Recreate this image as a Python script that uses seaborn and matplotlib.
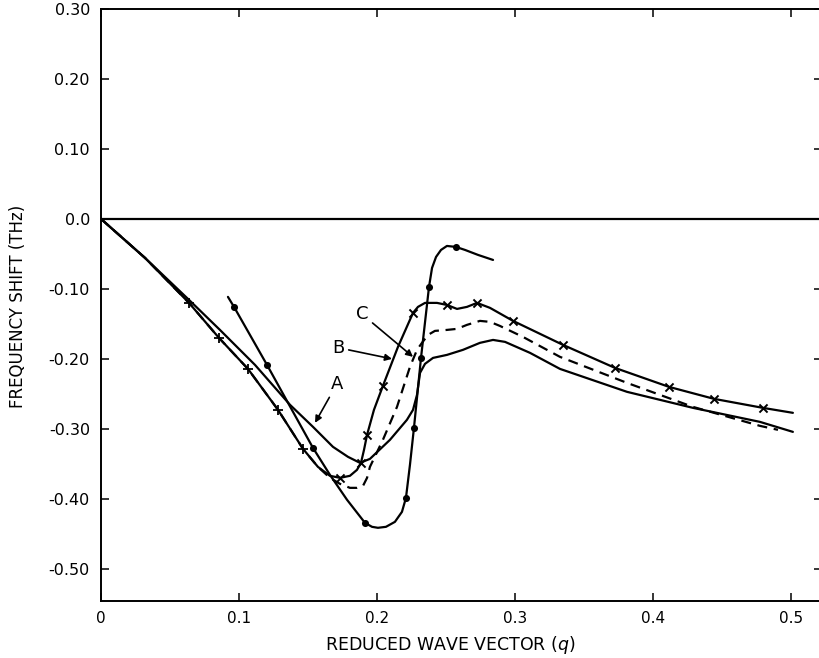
import matplotlib
matplotlib.use("Agg")
import matplotlib.pyplot as plt
import seaborn as sns

# ---- curve with filled circles ----
dot_line_q = [0.0920, 0.0964, 0.1203, 0.1536, 0.1659, 0.1783, 0.1913, 0.1964, 0.2007, 0.2065,
              0.2130, 0.2181, 0.2210, 0.2239, 0.2268, 0.2319, 0.2377, 0.2399, 0.2428, 0.2464,
              0.2507, 0.2572, 0.2638, 0.2732, 0.2841]
dot_line_f = [-0.1114, -0.1257, -0.2086, -0.3271, -0.3657, -0.4014, -0.4343, -0.4400, -0.4414, -0.4400,
              -0.4329, -0.4186, -0.3986, -0.3514, -0.2986, -0.1986, -0.0971, -0.0700, -0.0543, -0.0443,
              -0.0386, -0.0400, -0.0443, -0.0514, -0.0586]
dot_pts_q = [0.0964, 0.1203, 0.1536, 0.1913, 0.2210, 0.2268, 0.2319, 0.2377, 0.2572]
dot_pts_f = [-0.1257, -0.2086, -0.3271, -0.4343, -0.3986, -0.2986, -0.1986, -0.0971, -0.0400]

# ---- curve A (solid) ----
a_q = [0.0, 0.0319, 0.0638, 0.0862, 0.1116, 0.1370, 0.1536, 0.1681, 0.1790, 0.1877,
       0.1949, 0.2094, 0.2217, 0.2261, 0.2290, 0.2312, 0.2348, 0.2406, 0.2507, 0.2623,
       0.2746, 0.2841, 0.2928, 0.3109, 0.3326, 0.3812, 0.4290, 0.4775, 0.5014]
a_f = [0.0, -0.0557, -0.1157, -0.1586, -0.2086, -0.2657, -0.2971, -0.3257, -0.3400, -0.3486,
       -0.3429, -0.3157, -0.2871, -0.2729, -0.2514, -0.2200, -0.2071, -0.1986, -0.1943, -0.1871,
       -0.1771, -0.1729, -0.1757, -0.1914, -0.2143, -0.2471, -0.2700, -0.2900, -0.3043]

# ---- curve B (dashed) ----
b_q = [0.0, 0.0319, 0.0638, 0.0855, 0.1065, 0.1283, 0.1464, 0.1572, 0.1659, 0.1732,
       0.1804, 0.1855, 0.1899, 0.1928, 0.1949, 0.2043, 0.2145, 0.2239, 0.2290, 0.2326,
       0.2370, 0.2420, 0.2507, 0.2580, 0.2652, 0.2746, 0.2819, 0.2891, 0.3058, 0.3326,
       0.3812, 0.4290, 0.4775, 0.4906]
b_f = [0.0, -0.0557, -0.1200, -0.1700, -0.2143, -0.2729, -0.3286, -0.3543, -0.3700, -0.3786,
       -0.3843, -0.3843, -0.3814, -0.3700, -0.3543, -0.3157, -0.2686, -0.2114, -0.1871, -0.1771,
       -0.1657, -0.1600, -0.1586, -0.1571, -0.1514, -0.1457, -0.1471, -0.1529, -0.1686, -0.1971,
       -0.2343, -0.2686, -0.2957, -0.3014]

# ---- curve C (solid with crosses) ----
c_q = [0.0, 0.0319, 0.0638, 0.0855, 0.1065, 0.1283, 0.1464, 0.1572, 0.1659, 0.1732,
       0.1804, 0.1855, 0.1884, 0.1906, 0.1928, 0.1978, 0.2043, 0.2152, 0.2261, 0.2297,
       0.2348, 0.2435, 0.2507, 0.2580, 0.2652, 0.2725, 0.2819, 0.2986, 0.3348, 0.3725,
       0.4116, 0.4442, 0.4797, 0.5014]
c_f = [0.0, -0.0557, -0.1200, -0.1700, -0.2143, -0.2729, -0.3286, -0.3543, -0.3671, -0.3700,
       -0.3671, -0.3586, -0.3486, -0.3300, -0.3086, -0.2729, -0.2386, -0.1829, -0.1343, -0.1257,
       -0.1200, -0.1200, -0.1229, -0.1286, -0.1257, -0.1200, -0.1271, -0.1457, -0.1800, -0.2129,
       -0.2400, -0.2571, -0.2700, -0.2771]
c_plus_q = [0.0638, 0.0855, 0.1065, 0.1283, 0.1464]
c_plus_f = [-0.1200, -0.1700, -0.2143, -0.2729, -0.3286]
c_x_q = [0.1732, 0.1884, 0.1928, 0.2043, 0.2261, 0.2507, 0.2725, 0.2986, 0.3348, 0.3725,
         0.4116, 0.4442, 0.4797]
c_x_f = [-0.3700, -0.3486, -0.3086, -0.2386, -0.1343, -0.1229, -0.1200, -0.1457, -0.1800, -0.2129,
         -0.2400, -0.2571, -0.2700]

x_ticks = [0.0, 0.1, 0.2, 0.3, 0.4, 0.5]
x_tick_labels = ["0", "0.1", "0.2", "0.3", "0.4", "0.5"]
y_ticks = [0.30, 0.20, 0.10, 0.0, -0.10, -0.20, -0.30, -0.40, -0.50]
y_tick_labels = ["0.30", "0.20", "0.10", "0.0", "-0.10", "-0.20", "-0.30", "-0.40", "-0.50"]

sns.set_style("ticks")
plt.rcParams["font.family"] = ["DejaVu Sans"]
plt.rcParams["text.color"] = "black"
plt.rcParams["axes.labelcolor"] = "black"
plt.rcParams["xtick.color"] = "black"
plt.rcParams["ytick.color"] = "black"

fig = plt.figure(figsize=(8.2, 6.58), dpi=100)
ax = fig.add_axes([101 / 820, 1 - 601 / 658, 721 / 820, 592 / 658])

LW = 1.6
ax.axhline(0.0, color="black", lw=LW, zorder=1)

sns.lineplot(x=b_q, y=b_f, ax=ax, color="black", lw=LW, linestyle=(0, (4.5, 3.0)),
             sort=False, estimator=None, zorder=2)
sns.lineplot(x=a_q, y=a_f, ax=ax, color="black", lw=LW, sort=False, estimator=None, zorder=3)
sns.lineplot(x=c_q, y=c_f, ax=ax, color="black", lw=LW, sort=False, estimator=None, zorder=4)
sns.lineplot(x=dot_line_q, y=dot_line_f, ax=ax, color="black", lw=LW, sort=False,
             estimator=None, zorder=4)

sns.scatterplot(x=dot_pts_q, y=dot_pts_f, ax=ax, marker="o", s=26, color="black",
                edgecolor="black", linewidth=0, zorder=5)
sns.scatterplot(x=c_plus_q, y=c_plus_f, ax=ax, marker="+", s=60, color="black",
                linewidth=1.3, zorder=5)
sns.scatterplot(x=c_x_q, y=c_x_f, ax=ax, marker="x", s=34, color="black",
                linewidth=1.4, zorder=5)

arrow = dict(arrowstyle="-|>", color="black", lw=1.2, mutation_scale=10,
             shrinkA=1, shrinkB=0)
ax.annotate("A", xy=(0.1551, -0.2914), xytext=(0.171, -0.2357), ha="center", va="center",
            fontsize=13, color="black", arrowprops=arrow)
ax.annotate("B", xy=(0.2109, -0.2000), xytext=(0.1717, -0.1840), ha="center", va="center",
            fontsize=13, color="black", arrowprops=arrow)
ax.annotate("C", xy=(0.2261, -0.1971), xytext=(0.1891, -0.1360), ha="center", va="center",
            fontsize=13, color="black", arrowprops=arrow)

ax.set_xlim(0.0, 0.5225)
ax.set_ylim(-0.546, 0.30)
ax.set_xticks(x_ticks)
ax.set_xticklabels(x_tick_labels)
ax.set_yticks(y_ticks)
ax.set_yticklabels(y_tick_labels)
ax.tick_params(axis="both", direction="in", length=6, width=1.1, top=True, right=True,
               colors="black", labelcolor="black")
ax.tick_params(axis="y", labelsize=11.5, pad=8)
ax.tick_params(axis="x", labelsize=11, pad=7)
for side in ["left", "top", "bottom"]:
    ax.spines[side].set_linewidth(1.4)
    ax.spines[side].set_color("black")
ax.spines["right"].set_visible(False)

ax.set_xlabel("REDUCED WAVE VECTOR ($q$)", fontsize=12.5, color="black")
ax.xaxis.set_label_coords(0.485, -0.055)
ax.set_ylabel("FREQUENCY SHIFT (THz)", fontsize=12, color="black")
ax.yaxis.set_label_coords(-0.103, 0.497)

fig.savefig("out.png", dpi=100)
